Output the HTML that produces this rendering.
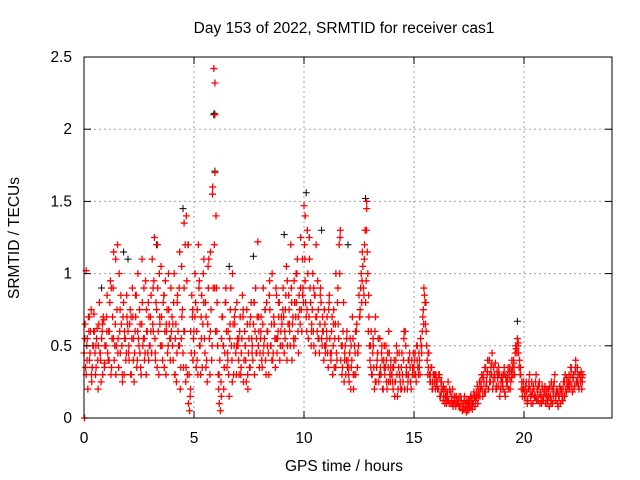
<!DOCTYPE html>
<html><head><meta charset="utf-8"><style>
body{margin:0;background:#fff;width:640px;height:480px;overflow:hidden}
svg{display:block;font-family:"Liberation Sans",sans-serif}
</style></head><body>
<svg id="chart" width="640" height="480" viewBox="0 0 640 480">
<rect width="640" height="480" fill="#fff"/>
<g id="grid"></g><g id="marks"></g><g id="axes"></g>
<text x="344" y="33" text-anchor="middle" font-size="15.5">Day 153 of 2022, SRMTID for receiver cas1</text>
<text x="344" y="471" text-anchor="middle" font-size="15.5">GPS time / hours</text>
<text transform="translate(19,238) rotate(-90)" text-anchor="middle" font-size="15.5">SRMTID / TECUs</text>
</svg>
<script>
const xTicks=[0,5,10,15,20];
const yTicks=[0,0.5,1,1.5,2,2.5];
const yTickLabels=["0","0.5","1","1.5","2","2.5"];
const redA=[
[0.45,0.65,0.3,0.55,0.7,0.4,0.6,0.25,0.5,0.72,0.45,0.35,0.62,0.5,0.8,0.4,0.55,0.3,0.68,0.5],
[0.5,0.85,0.4,0.6,0.95,0.35,0.7,1.15,0.5,0.3,0.75,0.55,1.0,0.45,0.65,0.25,0.8,0.55,0.4,0.7],
[0.6,0.4,0.75,0.3,0.9,0.55,0.45,0.7,0.35,1.0,0.5,0.65,0.3,0.8,0.55,0.4,0.95,0.6,0.45,0.7],
[0.5,0.85,1.1,0.6,1.25,0.4,0.75,0.9,0.3,0.65,1.05,0.5,0.8,0.35,0.95,0.6,0.45,0.75,0.55,0.9],
[0.7,0.4,1.0,0.55,0.25,0.85,0.5,1.15,0.35,0.7,0.45,0.9,1.2,1.4,0.3,0.1,0.05,0.6,0.85,0.4],
[0.6,1.0,0.35,0.75,1.2,0.5,0.3,0.85,0.65,1.1,0.45,0.7,0.25,0.9,0.55,1.15,0.4,1.6,2.42,2.32],
[1.4,0.8,0.3,0.1,0.05,0.55,0.7,0.2,0.45,0.9,0.35,0.6,0.15,0.75,0.5,1.0,0.3,0.65,0.45,0.8],
[0.5,0.3,0.7,0.45,0.85,0.25,0.6,0.4,0.75,0.2,0.55,0.35,0.8,0.5,0.65,0.3,0.9,0.45,1.22,0.6],
[0.45,0.7,0.35,0.9,0.55,0.4,0.8,0.6,0.3,0.75,0.5,1.0,0.45,0.65,0.35,0.85,0.55,0.7,0.4,0.6],
[0.65,0.9,0.45,0.75,1.05,0.5,0.85,0.6,1.2,0.4,0.7,0.95,0.55,0.8,1.1,0.45,0.75,1.25,0.6,0.9],
[1.47,0.95,0.7,1.3,0.55,1.1,0.8,0.65,1.0,0.5,0.85,1.2,0.6,0.75,0.45,0.9,0.55,0.7,0.4,0.65],
[0.5,0.7,0.35,0.85,0.45,0.6,0.3,0.75,0.55,1.0,0.4,0.65,1.2,1.3,0.5,0.35,0.8,0.45,0.3,0.6],
[0.4,0.25,0.55,0.35,0.7,0.2,0.5,0.3,0.65,0.45,0.85,0.75,1.0,1.15,0.9,1.2,0.8,1.5,1.0,0.7],
[0.4,0.6,0.3,0.5,0.2,0.7,0.35,0.45,0.25,0.55,0.3,0.4,0.2,0.5,0.35,0.25,0.45,0.6,0.3,0.4],
[0.3,0.2,0.4,0.25,0.5,0.15,0.35,0.3,0.2,0.45,0.25,0.6,0.6,0.35,0.2,0.3,0.45,0.25,0.4,0.3],
[0.35,0.45,0.25,0.5,0.3,0.4,0.55,0.45,0.7,0.9,0.8,0.6,0.4,0.35,0.3,0.25,0.35,0.2,0.3,0.25],
[0.3,0.25,0.2,0.3,0.15,0.25,0.2,0.15,0.1,0.2,0.15,0.25,0.1,0.18,0.12,0.2,0.1,0.15,0.08,0.12],
[0.1,0.15,0.08,0.12,0.05,0.1,0.15,0.07,0.12,0.05,0.1,0.08,0.14,0.06,0.1,0.15,0.12,0.18,0.1,0.2],
[0.15,0.25,0.2,0.3,0.18,0.35,0.25,0.4,0.2,0.3,0.35,0.45,0.25,0.3,0.38,0.2,0.28,0.35,0.15,0.25],
[0.3,0.2,0.35,0.15,0.25,0.3,0.2,0.35,0.25,0.4,0.3,0.35,0.45,0.5,0.55,0.45,0.4,0.3,0.25,0.2],
[0.2,0.15,0.25,0.1,0.2,0.3,0.15,0.25,0.1,0.2,0.15,0.3,0.2,0.12,0.25,0.18,0.1,0.2,0.15,0.22],
[0.15,0.1,0.2,0.08,0.15,0.25,0.1,0.18,0.3,0.12,0.2,0.08,0.15,0.1,0.2,0.12,0.25,0.15,0.2,0.25],
[0.2,0.3,0.25,0.35,0.18,0.3,0.22,0.4,0.25,0.3,0.2,0.28,0.32,0.25]
];
const redB=[
[0.0,0.35,0.5,0.2,0.6,0.45,0.75,0.35,0.5,0.6,0.3,0.55,0.4,0.65,0.45,0.25,0.6,0.7,0.35,0.5],
[0.7,0.45,0.6,0.8,0.3,0.55,0.9,0.4,0.65,0.5,1.2,0.35,0.6,0.85,0.5,0.7,0.3,0.55,0.45,0.65],
[0.45,0.65,0.3,0.55,0.7,0.25,0.6,0.85,0.4,0.55,0.75,0.35,0.65,0.5,0.9,0.45,0.3,0.6,0.8,0.5],
[0.7,0.45,0.65,0.95,0.55,0.8,0.35,0.6,1.0,0.5,0.7,0.4,0.85,0.6,0.3,0.75,0.5,0.65,0.4,0.6],
[0.5,0.8,0.3,0.65,0.45,0.6,0.9,0.2,0.55,0.75,0.35,0.6,0.25,0.95,1.2,0.3,0.15,0.45,0.7,0.55],
[0.45,0.8,0.6,0.3,0.9,0.5,0.7,0.35,1.0,0.55,0.8,0.4,0.65,1.1,0.3,0.75,0.5,0.9,1.2,0.6],
[0.9,0.5,0.2,0.4,0.25,0.7,0.5,0.35,0.8,0.6,0.45,0.3,0.55,0.9,0.4,0.65,0.5,0.75,0.3,0.55],
[0.4,0.6,0.3,0.55,0.7,0.4,0.5,0.25,0.65,0.45,0.35,0.7,0.55,0.4,0.8,0.6,0.45,0.7,0.5,0.35],
[0.55,0.4,0.65,0.5,0.75,0.3,0.6,0.45,0.85,0.5,0.65,0.4,0.7,0.55,0.9,0.45,0.6,0.8,0.5,0.7],
[0.5,0.7,0.6,0.85,0.4,0.65,0.75,0.5,0.9,0.65,0.55,0.8,0.7,1.0,0.6,0.85,0.65,0.75,1.1,0.8],
[1.2,0.8,0.6,1.0,0.7,0.9,0.5,0.75,0.6,0.85,0.45,0.7,0.95,0.55,0.65,0.8,0.5,0.6,0.75,0.45],
[0.6,0.45,0.75,0.55,0.4,0.7,0.5,0.35,0.65,0.45,0.8,0.55,1.0,0.4,0.3,0.6,0.25,0.5,0.4,0.35],
[0.3,0.45,0.2,0.4,0.55,0.3,0.45,0.6,0.35,0.5,0.7,0.9,0.8,1.05,0.85,1.3,0.95,1.15,0.6,0.5],
[0.5,0.3,0.45,0.35,0.6,0.25,0.4,0.55,0.3,0.35,0.45,0.2,0.4,0.3,0.5,0.2,0.35,0.45,0.25,0.3],
[0.25,0.35,0.15,0.4,0.3,0.2,0.45,0.25,0.35,0.3,0.4,0.2,0.5,0.3,0.25,0.4,0.35,0.2,0.3,0.45],
[0.4,0.3,0.5,0.35,0.45,0.3,0.5,0.6,0.75,0.85,0.65,0.5,0.3,0.45,0.25,0.35,0.2,0.3,0.25,0.2],
[0.25,0.2,0.3,0.15,0.25,0.2,0.12,0.2,0.15,0.1,0.18,0.12,0.2,0.1,0.15,0.08,0.12,0.1,0.15,0.1],
[0.12,0.08,0.15,0.1,0.06,0.12,0.08,0.04,0.1,0.12,0.07,0.15,0.1,0.12,0.18,0.08,0.15,0.22,0.15,0.25],
[0.2,0.3,0.15,0.25,0.35,0.22,0.3,0.2,0.4,0.25,0.3,0.2,0.35,0.28,0.2,0.32,0.22,0.3,0.2,0.28],
[0.25,0.3,0.18,0.28,0.22,0.35,0.28,0.2,0.32,0.35,0.4,0.3,0.5,0.45,0.5,0.35,0.3,0.2,0.15,0.25],
[0.15,0.22,0.18,0.12,0.25,0.2,0.1,0.18,0.22,0.15,0.25,0.12,0.18,0.22,0.1,0.15,0.22,0.12,0.18,0.1],
[0.2,0.12,0.15,0.22,0.1,0.2,0.15,0.25,0.12,0.18,0.1,0.15,0.22,0.18,0.12,0.2,0.15,0.3,0.18,0.22],
[0.25,0.2,0.35,0.22,0.28,0.2,0.32,0.25,0.35,0.22,0.3,0.25,0.2,0.3]
];
const redC=[
[0.55,0.4,0.7,0.3,0.6,0.5,0.2,0.45,0.65,0.38],
[0.6,0.4,0.9,0.55,1.1,0.45,0.75,0.3,0.6,0.85],
[0.5,0.7,0.4,0.85,0.6,0.45,1.1,0.55,0.75,0.4],
[0.6,0.9,0.45,1.2,0.7,0.5,0.85,0.65,1.0,0.55],
[0.65,0.3,0.8,0.5,1.05,0.6,0.35,1.2,0.2,0.75],
[0.7,0.4,0.95,0.55,0.8,0.35,1.05,0.6,1.55,0.9],
[0.6,0.3,0.15,0.5,0.8,0.4,0.65,0.25,0.7,0.5],
[0.55,0.35,0.75,0.5,0.3,0.65,0.45,0.8,0.55,0.7],
[0.6,0.45,0.75,0.5,0.95,0.4,0.65,0.55,0.8,0.5],
[0.75,0.55,0.95,0.65,0.8,0.5,1.0,0.7,0.9,0.85],
[1.1,0.75,1.25,0.6,0.9,0.7,0.55,0.85,0.6,0.5],
[0.55,0.8,0.45,0.65,0.35,0.9,1.25,0.5,0.4,0.55],
[0.35,0.5,0.3,0.6,0.45,0.7,0.95,1.1,1.3,0.85],
[0.35,0.55,0.25,0.45,0.3,0.5,0.35,0.4,0.25,0.35],
[0.35,0.25,0.45,0.3,0.2,0.55,0.3,0.4,0.25,0.35],
[0.3,0.4,0.35,0.5,0.65,0.8,0.45,0.3,0.25,0.3],
[0.22,0.28,0.18,0.22,0.15,0.12,0.18,0.1,0.14,0.1],
[0.08,0.12,0.06,0.1,0.08,0.12,0.1,0.16,0.14,0.18],
[0.22,0.28,0.18,0.32,0.25,0.38,0.3,0.22,0.3,0.2],
[0.22,0.3,0.25,0.32,0.28,0.38,0.48,0.52,0.35,0.2],
[0.18,0.12,0.22,0.16,0.2,0.14,0.22,0.16,0.12,0.2],
[0.16,0.2,0.12,0.22,0.15,0.18,0.2,0.15,0.25,0.28],
[0.22,0.3,0.28,0.35,0.25,0.3,0.28]
];
const redExtraT=[0.1,5.95,5.95,4.55,10.05,12.85,0.02];
const redExtraV=[1.02,2.1,1.7,1.35,1.4,1.45,0.0];
const blackT=[5.9,5.92,5.95,10.1,12.8,4.5,3.3,19.7,10.8,9.1,1.8,2.0,6.6,7.7,12.0,0.8];
const blackV=[2.1,2.11,1.71,1.56,1.52,1.45,1.2,0.67,1.3,1.27,1.15,1.1,1.05,1.12,1.2,0.9];

const X0=84,X1=612,Y0=418,Y1=57,XMAX=24,YMAX=2.5;
const xs=v=>X0+(X1-X0)*v/XMAX;
const ys=v=>Y0-(Y0-Y1)*v/YMAX;
const NS="http://www.w3.org/2000/svg";
function mk(tag,attrs,parent){const e=document.createElementNS(NS,tag);for(const k in attrs)e.setAttribute(k,attrs[k]);parent.appendChild(e);return e;}
const grid=document.getElementById('grid'),marks=document.getElementById('marks'),axes=document.getElementById('axes');
yTicks.forEach((t,i)=>{const y=ys(t);
 if(t>0&&t<YMAX){const g=mk('line',{x1:X0,x2:X1,y1:y,y2:y,stroke:'#a0a0a0','stroke-dasharray':'2,3'},grid);
 
 }
 mk('line',{x1:X0,x2:X0+7,y1:y,y2:y,stroke:'#000'},axes);
 mk('line',{x1:X1,x2:X1-7,y1:y,y2:y,stroke:'#000'},axes);
 const tx=mk('text',{x:X0-12,y:y+5,'text-anchor':'end','font-size':'15.5'},axes);
 tx.textContent=yTickLabels[i];
 
 
});
xTicks.forEach(t=>{const x=xs(t);
 if(t>0){const g=mk('line',{x1:x,x2:x,y1:Y0,y2:Y1,stroke:'#a0a0a0','stroke-dasharray':'2,3'},grid);
 
 }
 mk('line',{x1:x,x2:x,y1:Y0,y2:Y0-7,stroke:'#000'},axes);
 mk('line',{x1:x,x2:x,y1:Y1,y2:Y1+7,stroke:'#000'},axes);
 const tx=mk('text',{x:x,y:Y0+25,'text-anchor':'middle','font-size':'15.5'},axes);
 tx.textContent=String(t);
 
 
});
const frame=mk('rect',{x:X0,y:Y1,width:X1-X0,height:Y0-Y1,fill:'none',stroke:'#000'},axes);


function plus(t,v){const x=xs(t),y=ys(v);return `M${x-3.5},${y}h7M${x},${y-3.5}v7`;}
let dk='';blackT.forEach((t,i)=>dk+=plus(t,blackV[i]));
const pk=mk('path',{d:dk,stroke:'#000',fill:'none','stroke-width':1},marks);


let dr='';
redA.forEach((row,h)=>row.forEach((v,j)=>dr+=plus(h+j*0.05,v)));
redB.forEach((row,h)=>row.forEach((v,j)=>dr+=plus(h+0.025+j*0.05,v)));
redC.forEach((row,h)=>row.forEach((v,j)=>dr+=plus(h+0.04+j*0.1,v)));
redExtraT.forEach((t,i)=>dr+=plus(t,redExtraV[i]));
const pr=mk('path',{d:dr,stroke:'#ff0000',fill:'none','stroke-width':1.3},marks);


</script>
</body></html>
